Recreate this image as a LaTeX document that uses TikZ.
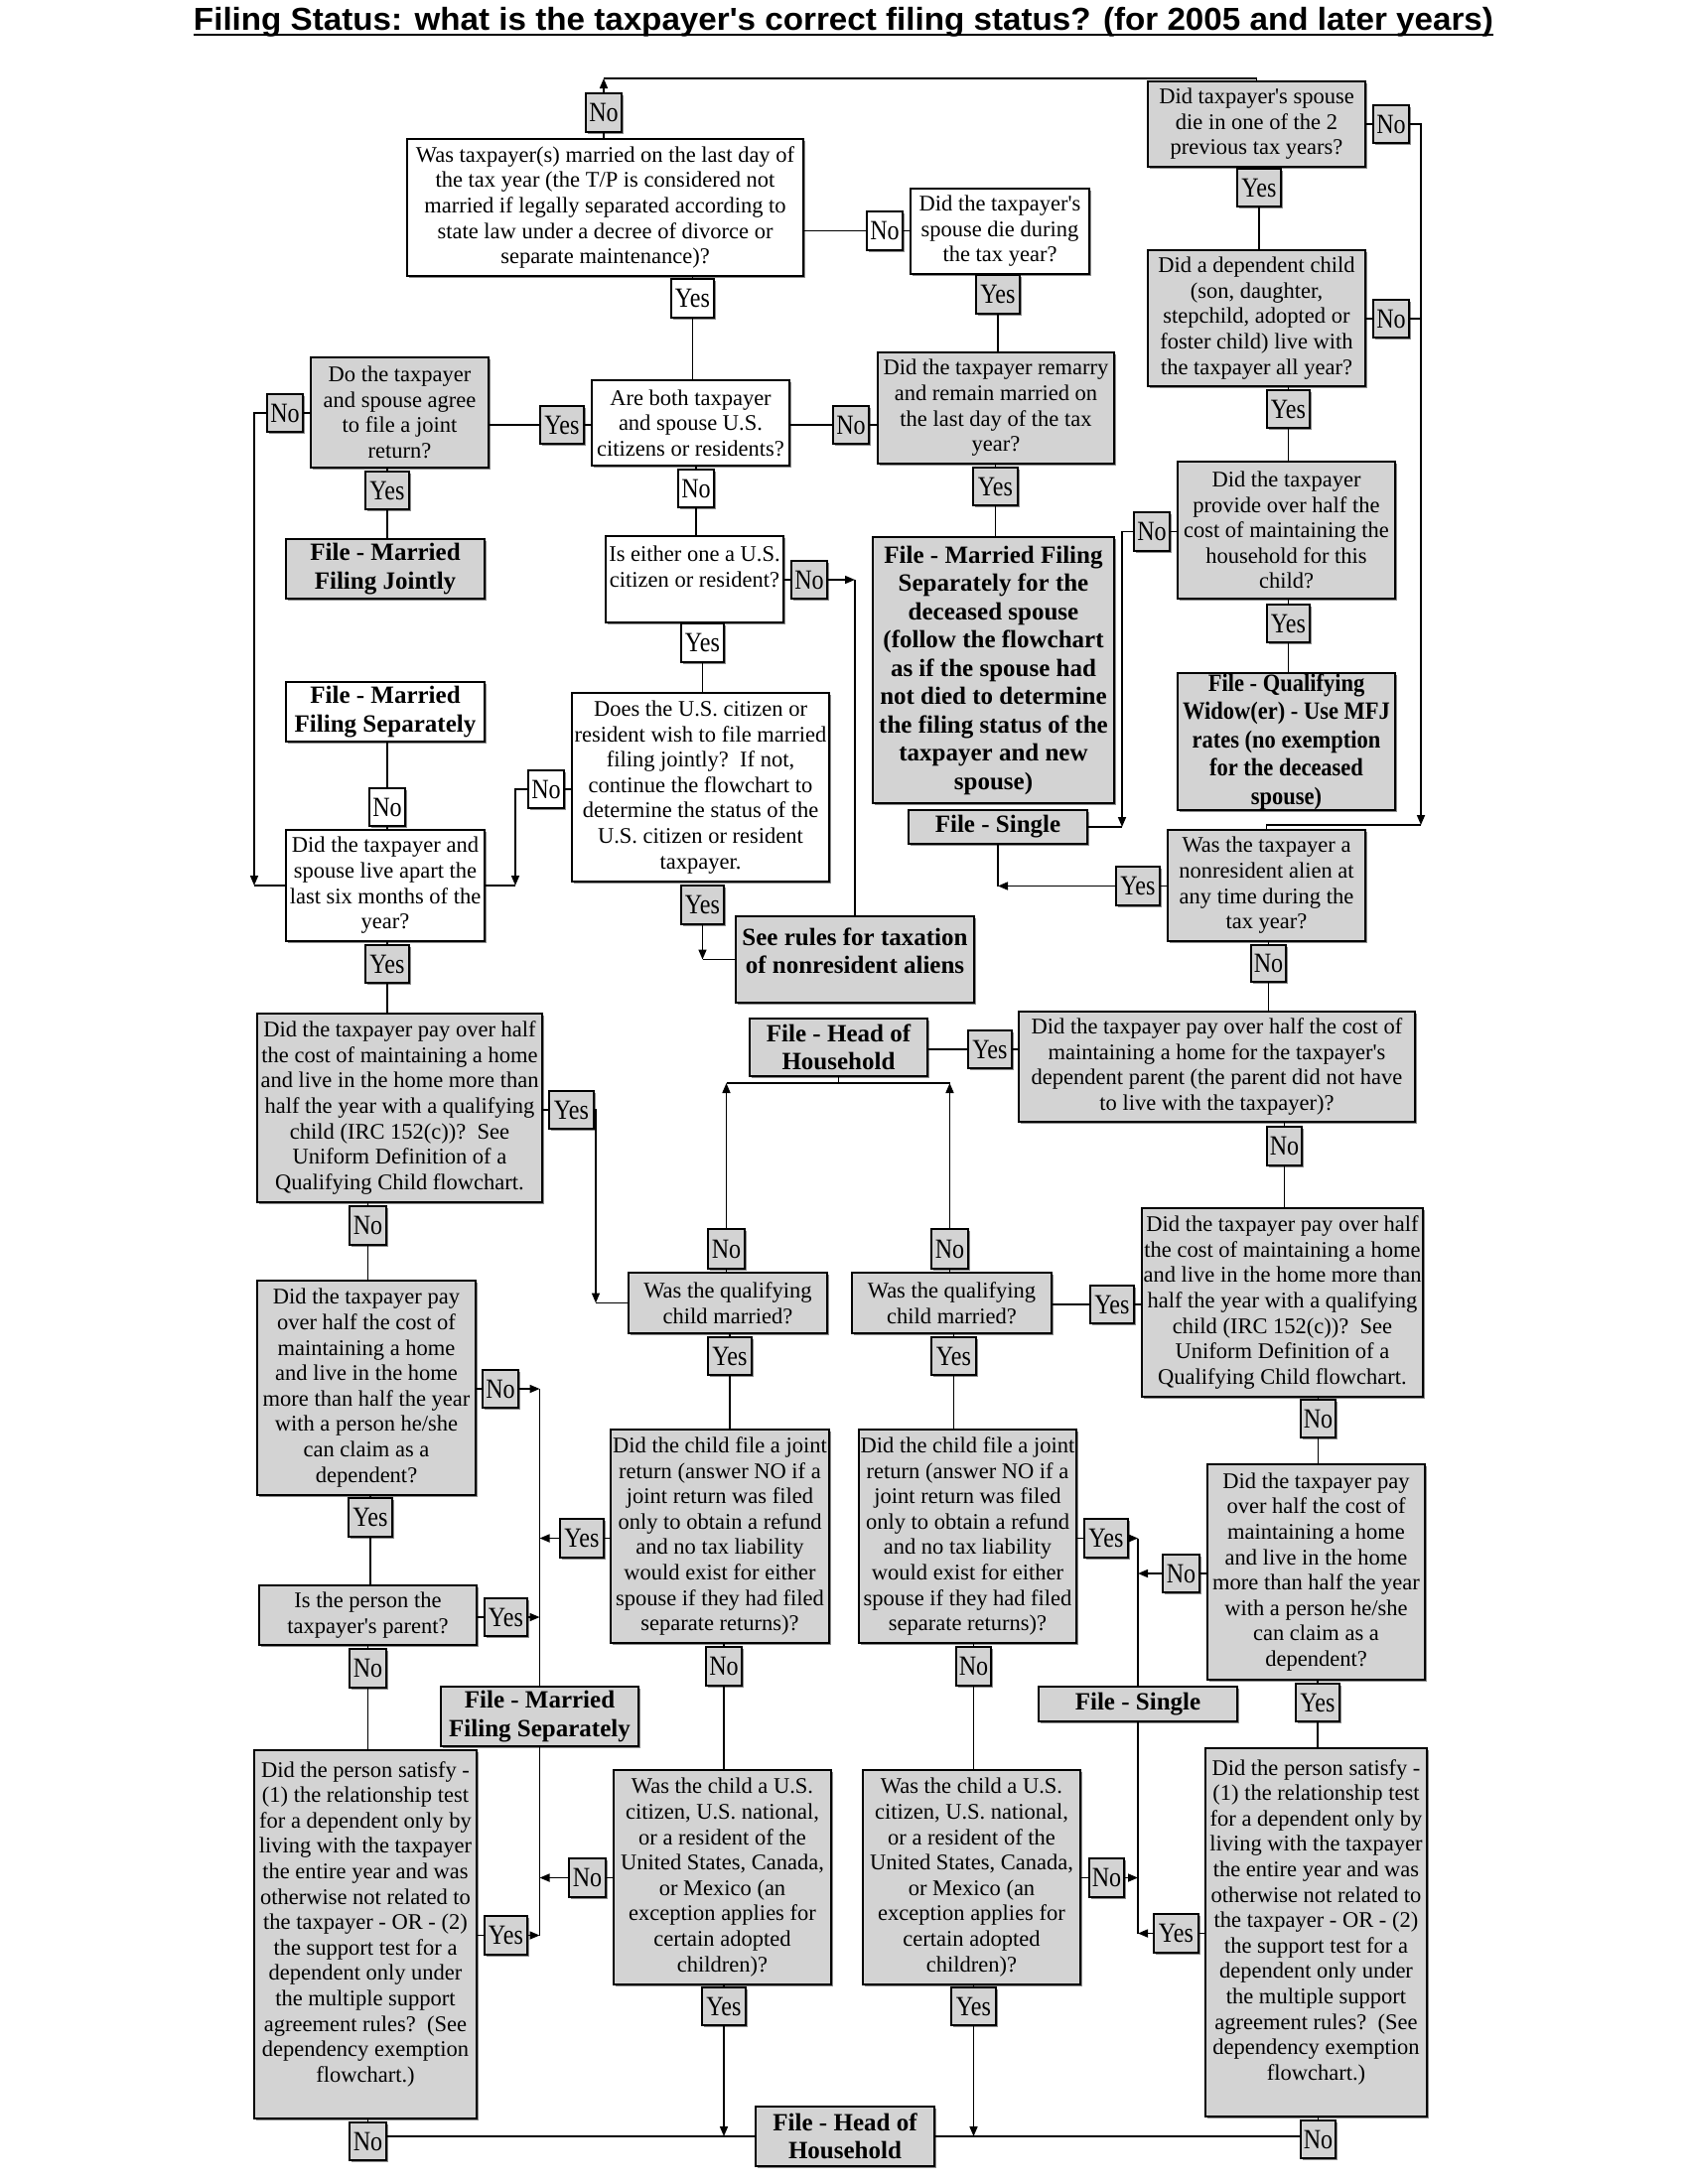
\documentclass[tikz,border=0pt]{standalone}
\usepackage{fontspec}
\usepackage{graphicx}
\setmainfont{Liberation Serif}[Ligatures=TeXOff]
\newfontfamily\lblfamily{Liberation Serif}[FakeStretch=0.86]
\newfontfamily\narrowfamily{Liberation Serif}[FakeStretch=0.9]
\newfontfamily\titlefamily{Liberation Sans}
\usetikzlibrary{arrows.meta,shadows}
\definecolor{boxgray}{RGB}{211,211,211}
\newcommand\bodyfnt{\fontsize{22.5}{25.6}\selectfont}
\newcommand\boldfnt{\fontsize{25}{28.5}\selectfont\bfseries}
\newcommand\lblfnt{\lblfamily\fontsize{28}{30}\selectfont}
\newcommand\vchain[3]{\draw[conn] (#1.south -| #2.north) -- (#2.north); \draw[conn] (#2.south) -- (#2.south |- #3.north);}
\newcommand\hchainR[3]{\draw[conn] (#1.east |- #2.west) -- (#2.west); \draw[conn] (#2.east) -- (#2.east -| #3.west);}
\newcommand\hchainL[3]{\draw[conn] (#1.west |- #2.east) -- (#2.east); \draw[conn] (#2.west) -- (#2.west -| #3.east);}
\newcommand\downto[2]{\draw[conn] (#1.south -| #2.north) -- (#2.north);}
\newcommand\upto[2]{\draw[conn] (#1.north -| #2.south) -- (#2.south);}
\newcommand\rightto[2]{\draw[conn] (#1.east |- #2.west) -- (#2.west);}
\newcommand\leftto[2]{\draw[conn] (#1.west |- #2.east) -- (#2.east);}
\tikzset{
 shd/.style={drop shadow={shadow xshift=2.2pt,shadow yshift=-2.2pt,fill=black!45,opacity=1}},
 basebox/.style={draw=black,line width=1.6pt,inner sep=0pt,align=center,shd},
 gq/.style={basebox,fill=boxgray,font=\bodyfnt},
 wq/.style={basebox,fill=white,font=\bodyfnt},
 gbold/.style={basebox,fill=boxgray,font=\boldfnt},
 wbold/.style={basebox,fill=white,font=\boldfnt},
 lbl/.style={basebox,fill=boxgray,font=\lblfnt,line width=1.4pt},
 wlbl/.style={lbl,fill=white},
 sz/.style 2 args={minimum width=#1pt,minimum height=#2pt},
 conn/.style={line width=1.6pt},
 arr/.style={conn,-{Triangle[length=10pt,width=8pt]}},
}
\begin{document}
\begin{tikzpicture}[x=1pt,y=-1pt]
\fill[white] (0,0) rectangle (1700,2200);
\path[use as bounding box] (0,0) rectangle (1700,2200);

% title
\node[anchor=base,inner sep=0pt] (title) at (849.5,31) {\resizebox{1309pt}{\height}{\titlefamily\bfseries\fontsize{32}{36}\selectfont Filing Status: what is the taxpayer's correct filing status? (for 2005 and later years)}};
\draw[line width=2pt] ([yshift=-4pt]title.base west) -- ([yshift=-4pt]title.base east);

% ---------- top area ----------
\node[wq,sz={399}{138}] (q1) at (609.5,209) {Was taxpayer(s) married on the last day of\\the tax year (the T/P is considered not\\married if legally separated according to\\state law under a decree of divorce or\\separate maintenance)?};
\node[lbl,sz={36}{39}] (n1) at (608,113.5) {No};
\node[wlbl,sz={43}{39}] (y1) at (697.5,300.5) {Yes};
\node[wq,sz={199}{86}] (q2) at (695.5,426) {Are both taxpayer\\and spouse U.S.\\citizens or residents?};
\node[lbl,sz={44}{38}] (y2) at (566,428) {Yes};
\node[gq,sz={179}{111}] (agree) at (402.5,415.5) {Do the taxpayer\\and spouse agree\\to file a joint\\return?};
\node[lbl,sz={36}{38}] (n2) at (287,416) {No};
\node[lbl,sz={44}{38}] (y3) at (390,494) {Yes};
\node[gbold,sz={200}{60}] (mfj) at (388,573) {File - Married\\Filing Jointly};
\node[wlbl,sz={36}{38}] (n3) at (701,492) {No};
\node[wq,sz={179}{87}] (q8) at (699.5,583.5) {Is either one a U.S.\\citizen or resident?\\ \mbox{}};
\node[lbl,sz={36}{38}] (n4) at (815,584) {No};
\node[wlbl,sz={43}{39}] (y4) at (707.5,647.5) {Yes};
\node[wq,sz={259}{190}] (q9) at (705.5,793) {Does the U.S. citizen or\\resident wish to file married\\filing jointly?\ \ If not,\\continue the flowchart to\\determine the status of the\\U.S. citizen or resident\\taxpayer.};
\node[wlbl,sz={36}{38}] (n5) at (550,795) {No};
\node[lbl,sz={43}{39}] (y5) at (707.5,911.5) {Yes};
\node[gbold,sz={240}{87}] (seerules) at (861,966.5) {See rules for taxation\\of nonresident aliens\\[-11pt]\mbox{}};
\node[wbold,sz={200}{60}] (mfs1) at (388,717) {File - Married\\Filing Separately};
\node[wlbl,sz={36}{38}] (n6) at (390,813) {No};
\node[wq,sz={200}{112}] (apart) at (388,892) {Did the taxpayer and\\spouse live apart the\\last six months of the\\year?};
\node[lbl,sz={44}{38}] (y6) at (390,971) {Yes};

\node[wq,sz={180}{86}] (q6) at (1007,233) {Did the taxpayer's\\spouse die during\\the tax year?};
\node[wlbl,sz={36}{39}] (n21) at (891,232.5) {No};
\node[lbl,sz={44}{39}] (y21) at (1005,296.5) {Yes};
\node[gq,sz={238}{112}] (q7) at (1003,411) {Did the taxpayer remarry\\and remain married on\\the last day of the tax\\year?};
\node[lbl,sz={36}{38}] (n22) at (857,428) {No};
\node[lbl,sz={45}{38}] (y22) at (1002.5,490) {Yes};
\node[gbold,sz={243}{268}] (mfsd) at (1000.5,675) {File - Married Filing\\Separately for the\\deceased spouse\\(follow the flowchart\\as if the spouse had\\not died to determine\\the filing status of the\\taxpayer and new\\spouse)};
\node[gbold,sz={180}{34}] (single1) at (1005,833) {File - Single};

\node[gq,sz={219}{86}] (q3) at (1265.5,125) {Did taxpayer's spouse\\die in one of the 2\\previous tax years?};
\node[lbl,sz={36}{38}] (n23) at (1401,125) {No};
\node[lbl,sz={44}{38}] (y23) at (1268,189) {Yes};
\node[gq,sz={219}{137}] (q4) at (1265.5,320.5) {Did a dependent child\\(son, daughter,\\stepchild, adopted or\\foster child) live with\\the taxpayer all year?};
\node[lbl,sz={36}{38}] (n24) at (1401,321) {No};
\node[lbl,sz={43}{38}] (y24) at (1297.5,412) {Yes};
\node[gq,sz={219}{138}] (q5) at (1295.5,534) {Did the taxpayer\\provide over half the\\cost of maintaining the\\household for this\\child?};
\node[lbl,sz={36}{39}] (n25) at (1160,535.5) {No};
\node[lbl,sz={43}{38}] (y25) at (1297.5,628) {Yes};
\node[gbold,font={\narrowfamily\boldfnt},sz={219}{138}] (qw) at (1295.5,747) {File - Qualifying\\Widow(er) - Use MFJ\\rates (no exemption\\for the deceased\\spouse)};
\node[gq,sz={199}{112}] (nra) at (1275.5,892) {Was the taxpayer a\\nonresident alien at\\any time during the\\tax year?};
\node[lbl,sz={44}{39}] (y26) at (1146,892.5) {Yes};
\node[lbl,sz={35}{37}] (n26) at (1277.5,970.5) {No};

% ---------- middle / lower ----------
\node[gq,sz={287}{190}] (q10) at (402.5,1116) {Did the taxpayer pay over half\\the cost of maintaining a home\\and live in the home more than\\half the year with a qualifying\\child (IRC 152(c))?\ \ See\\Uniform Definition of a\\Qualifying Child flowchart.};
\node[lbl,sz={45}{38}] (y7) at (575.5,1118) {Yes};
\node[lbl,sz={37}{39}] (n7) at (370.5,1234.5) {No};
\node[gq,sz={220}{216}] (q11) at (369,1398) {Did the taxpayer pay\\over half the cost of\\maintaining a home\\and live in the home\\more than half the year\\with a person he/she\\can claim as a\\dependent?};
\node[lbl,sz={36}{38}] (n8) at (504,1399) {No};
\node[lbl,sz={44}{39}] (y8) at (373,1528.5) {Yes};
\node[gq,sz={219}{60}] (parent) at (370.5,1627) {Is the person the\\taxpayer's parent?};
\node[lbl,sz={43}{38}] (y9) at (509.5,1629) {Yes};
\node[lbl,sz={37}{39}] (n9) at (370.5,1680.5) {No};
\node[gq,sz={224}{371}] (satL) at (368,1948.5) {Did the person satisfy -\\(1) the relationship test\\for a dependent only by\\living with the taxpayer\\the entire year and was\\otherwise not related to\\the taxpayer - OR - (2)\\the support test for a\\dependent only under\\the multiple support\\agreement rules?\ \ (See\\dependency exemption\\flowchart.)\\ \mbox{}};
\node[lbl,sz={43}{39}] (y10) at (509.5,1949.5) {Yes};
\node[lbl,sz={37}{38}] (n10) at (370.5,2157) {No};
\node[gbold,sz={199}{60}] (mfs2) at (543.5,1729) {File - Married\\Filing Separately};

\node[gq,sz={200}{61}] (qcmL) at (733,1312.5) {Was the qualifying\\child married?};
\node[lbl,sz={37}{40}] (n11) at (731.5,1258) {No};
\node[lbl,sz={44}{38}] (y11) at (735,1366) {Yes};
\node[gq,sz={220}{215}] (cjL) at (725,1547.5) {Did the child file a joint\\return (answer NO if a\\joint return was filed\\only to obtain a refund\\and no tax liability\\would exist for either\\spouse if they had filed\\separate returns)?};
\node[lbl,sz={44}{39}] (y12) at (586,1549.5) {Yes};
\node[lbl,sz={36}{39}] (n12) at (729,1678.5) {No};
\node[gq,sz={219}{216}] (ccL) at (727.5,1891) {Was the child a U.S.\\citizen, U.S. national,\\or a resident of the\\United States, Canada,\\or Mexico (an\\exception applies for\\certain adopted\\children)?};
\node[lbl,sz={37}{39}] (n13) at (591.5,1891.5) {No};
\node[lbl,sz={44}{38}] (y13) at (729,2021) {Yes};
\node[gbold,sz={180}{60}] (hoh2) at (851,2152) {File - Head of\\Household};

\node[gbold,sz={179}{58}] (hoh1) at (844.5,1055) {File - Head of\\Household};
\node[lbl,sz={44}{38}] (y14) at (997,1057) {Yes};
\node[gq,sz={399}{111}] (dparent) at (1225.5,1074.5) {Did the taxpayer pay over half the cost of\\maintaining a home for the taxpayer's\\dependent parent (the parent did not have\\to live with the taxpayer)?};
\node[lbl,sz={35}{39}] (n14) at (1293.5,1154.5) {No};
\node[gq,sz={283}{190}] (q10R) at (1291.5,1312) {Did the taxpayer pay over half\\the cost of maintaining a home\\and live in the home more than\\half the year with a qualifying\\child (IRC 152(c))?\ \ See\\Uniform Definition of a\\Qualifying Child flowchart.};
\node[lbl,sz={44}{38}] (y15) at (1120,1314) {Yes};
\node[gq,sz={201}{61}] (qcmR) at (958.5,1312.5) {Was the qualifying\\child married?};
\node[lbl,sz={37}{40}] (n15) at (956.5,1258) {No};
\node[lbl,sz={45}{38}] (y16) at (960.5,1366) {Yes};
\node[gq,sz={219}{215}] (cjR) at (974.5,1547.5) {Did the child file a joint\\return (answer NO if a\\joint return was filed\\only to obtain a refund\\and no tax liability\\would exist for either\\spouse if they had filed\\separate returns)?};
\node[lbl,sz={44}{39}] (y17) at (1114,1549.5) {Yes};
\node[lbl,sz={35}{39}] (n20) at (980.5,1678.5) {No};
\node[gq,sz={219}{216}] (ccR) at (978.5,1891) {Was the child a U.S.\\citizen, U.S. national,\\or a resident of the\\United States, Canada,\\or Mexico (an\\exception applies for\\certain adopted\\children)?};
\node[lbl,sz={35}{39}] (n19) at (1114.5,1891.5) {No};
\node[lbl,sz={45}{38}] (y20) at (980.5,2021) {Yes};
\node[lbl,sz={35}{38}] (n16) at (1327.5,1429) {No};
\node[gq,sz={219}{217}] (q11R) at (1325.5,1583.5) {Did the taxpayer pay\\over half the cost of\\maintaining a home\\and live in the home\\more than half the year\\with a person he/she\\can claim as a\\dependent?};
\node[lbl,sz={37}{38}] (n17) at (1189.5,1585) {No};
\node[gbold,sz={200}{35}] (single2) at (1146,1716.5) {File - Single};
\node[lbl,sz={44}{38}] (y18) at (1327,1715) {Yes};
\node[gq,sz={223}{371}] (satR) at (1325.5,1946.5) {Did the person satisfy -\\(1) the relationship test\\for a dependent only by\\living with the taxpayer\\the entire year and was\\otherwise not related to\\the taxpayer - OR - (2)\\the support test for a\\dependent only under\\the multiple support\\agreement rules?\ \ (See\\dependency exemption\\flowchart.)\\ \mbox{}};
\node[lbl,sz={45}{39}] (y19) at (1184.5,1947.5) {Yes};
\node[lbl,sz={35}{38}] (n18) at (1327.5,2155) {No};

% ---------- corner coordinates ----------
\coordinate (tl) at (1266,79);
\coordinate (lv) at (256,0);
\coordinate (mv) at (519,0);
\coordinate (v600) at (600,0);
\coordinate (hy) at (0,1091);
\coordinate (rv) at (1431,0);
\coordinate (nraTop) at (0,831);
\coordinate (v1130) at (1130,0);

% ---------- straight connectors ----------
\vchain{q1}{y1}{q2}
\vchain{q6}{y21}{q7}
\vchain{q3}{y23}{q4}
\vchain{q4}{y24}{q5}
\vchain{q5}{y25}{qw}
\vchain{q7}{y22}{mfsd}
\vchain{agree}{y3}{mfj}
\vchain{q2}{n3}{q8}
\vchain{q8}{y4}{q9}
\vchain{mfs1}{n6}{apart}
\vchain{apart}{y6}{q10}
\vchain{q10}{n7}{q11}
\vchain{q11}{y8}{parent}
\vchain{parent}{n9}{satL}
\downto{satL}{n10}
\vchain{qcmL}{y11}{cjL}
\vchain{cjL}{n12}{ccL}
\downto{ccL}{y13}
\vchain{dparent}{n14}{q10R}
\vchain{qcmR}{y16}{cjR}
\vchain{cjR}{n20}{ccR}
\downto{ccR}{y20}
\vchain{q10R}{n16}{q11R}
\vchain{q11R}{y18}{satR}
\downto{satR}{n18}
\vchain{nra}{n26}{dparent}
\upto{qcmL}{n11}
\upto{qcmR}{n15}
\upto{q1}{n1}

\hchainR{q1}{n21}{q6}
\hchainL{q2}{y2}{agree}
\hchainR{q2}{n22}{q7}
\leftto{agree}{n2}
\rightto{q8}{n4}
\leftto{q9}{n5}
\rightto{q10}{y7}
\rightto{q11}{n8}
\rightto{parent}{y9}
\rightto{satL}{y10}
\leftto{cjL}{y12}
\leftto{ccL}{n13}
\hchainR{hoh1}{y14}{dparent}
\hchainL{q10R}{y15}{qcmR}
\rightto{cjR}{y17}
\rightto{ccR}{n19}
\leftto{q11R}{n17}
\leftto{satR}{y19}
\rightto{q3}{n23}
\rightto{q4}{n24}
\leftto{q5}{n25}
\leftto{nra}{y26}

% ---------- routed connectors with arrows ----------
\draw[arr] (n1.north) -- (n1.north |- tl);
\draw[conn] (n1.north |- tl) -| (q3.north);

\draw[arr] (n2.west) -| (lv |- apart.west);
\draw[conn] (lv |- apart.west) -- (apart.west);

\draw[arr] (n5.west) -| (mv |- apart.east);
\draw[conn] (mv |- apart.east) -- (apart.east);

\draw[arr] (n4.east) -- (n4.east -| seerules.north);
\draw[conn] (n4.east -| seerules.north) -- (seerules.north);

\draw[arr] (y5.south) -- (y5.south |- seerules.west);
\draw[conn] (y5.south |- seerules.west) -- (seerules.west);

\draw[arr] (y7.east) -| (v600 |- qcmL.west);
\draw[conn] (v600 |- qcmL.west) -- (qcmL.west);

\draw[arr] (n8.east) -- (n8.east -| mfs2.north);
\draw[conn] (n8.east -| mfs2.north) -- (mfs2.north);
\draw[arr] (y9.east) -- (y9.east -| mfs2.north);
\draw[arr] (y12.west) -- (y12.west -| mfs2.north);
\draw[arr] (n13.west) -- (n13.west -| mfs2.south);
\draw[arr] (y10.east) -- (y10.east -| mfs2.south);
\draw[conn] (mfs2.south) -- (mfs2.south |- y10.east);

\draw[arr] (y17.east) -- (y17.east -| single2.north);
\draw[conn] (y17.east -| single2.north) -- (single2.north);
\draw[arr] (n17.west) -- (n17.west -| single2.north);
\draw[arr] (n19.east) -- (n19.east -| single2.south);
\draw[arr] (y19.west) -- (y19.west -| single2.south);
\draw[conn] (single2.south) -- (single2.south |- y19.west);

\draw[arr] (n11.north) -- (n11.north |- hy);
\draw[arr] (n15.north) -- (n15.north |- hy);
\draw[conn] (n11.north |- hy) -- (n15.north |- hy);
\draw[conn] (hoh1.south) -- (hoh1.south |- hy);

\draw[arr] (y13.south) -- (y13.south |- hoh2.west);
\draw[arr] (y20.south) -- (y20.south |- hoh2.east);
\draw[conn] (n10.east |- hoh2.west) -- (hoh2.west);
\draw[conn] (n18.west |- hoh2.east) -- (hoh2.east);

\draw[arr] (n23.east) -| (rv |- nraTop);
\draw[conn] (rv |- nraTop) -| (nra.north);
\draw[conn] (n24.east) -- (n24.east -| rv);

\draw[arr] (n25.west) -| (v1130 |- single1.east);
\draw[conn] (v1130 |- single1.east) -- (single1.east);

\draw[arr] (y26.west) -- (y26.west -| single1.south);
\draw[conn] (single1.south) -- (single1.south |- y26.west);
\end{tikzpicture}
\end{document}
